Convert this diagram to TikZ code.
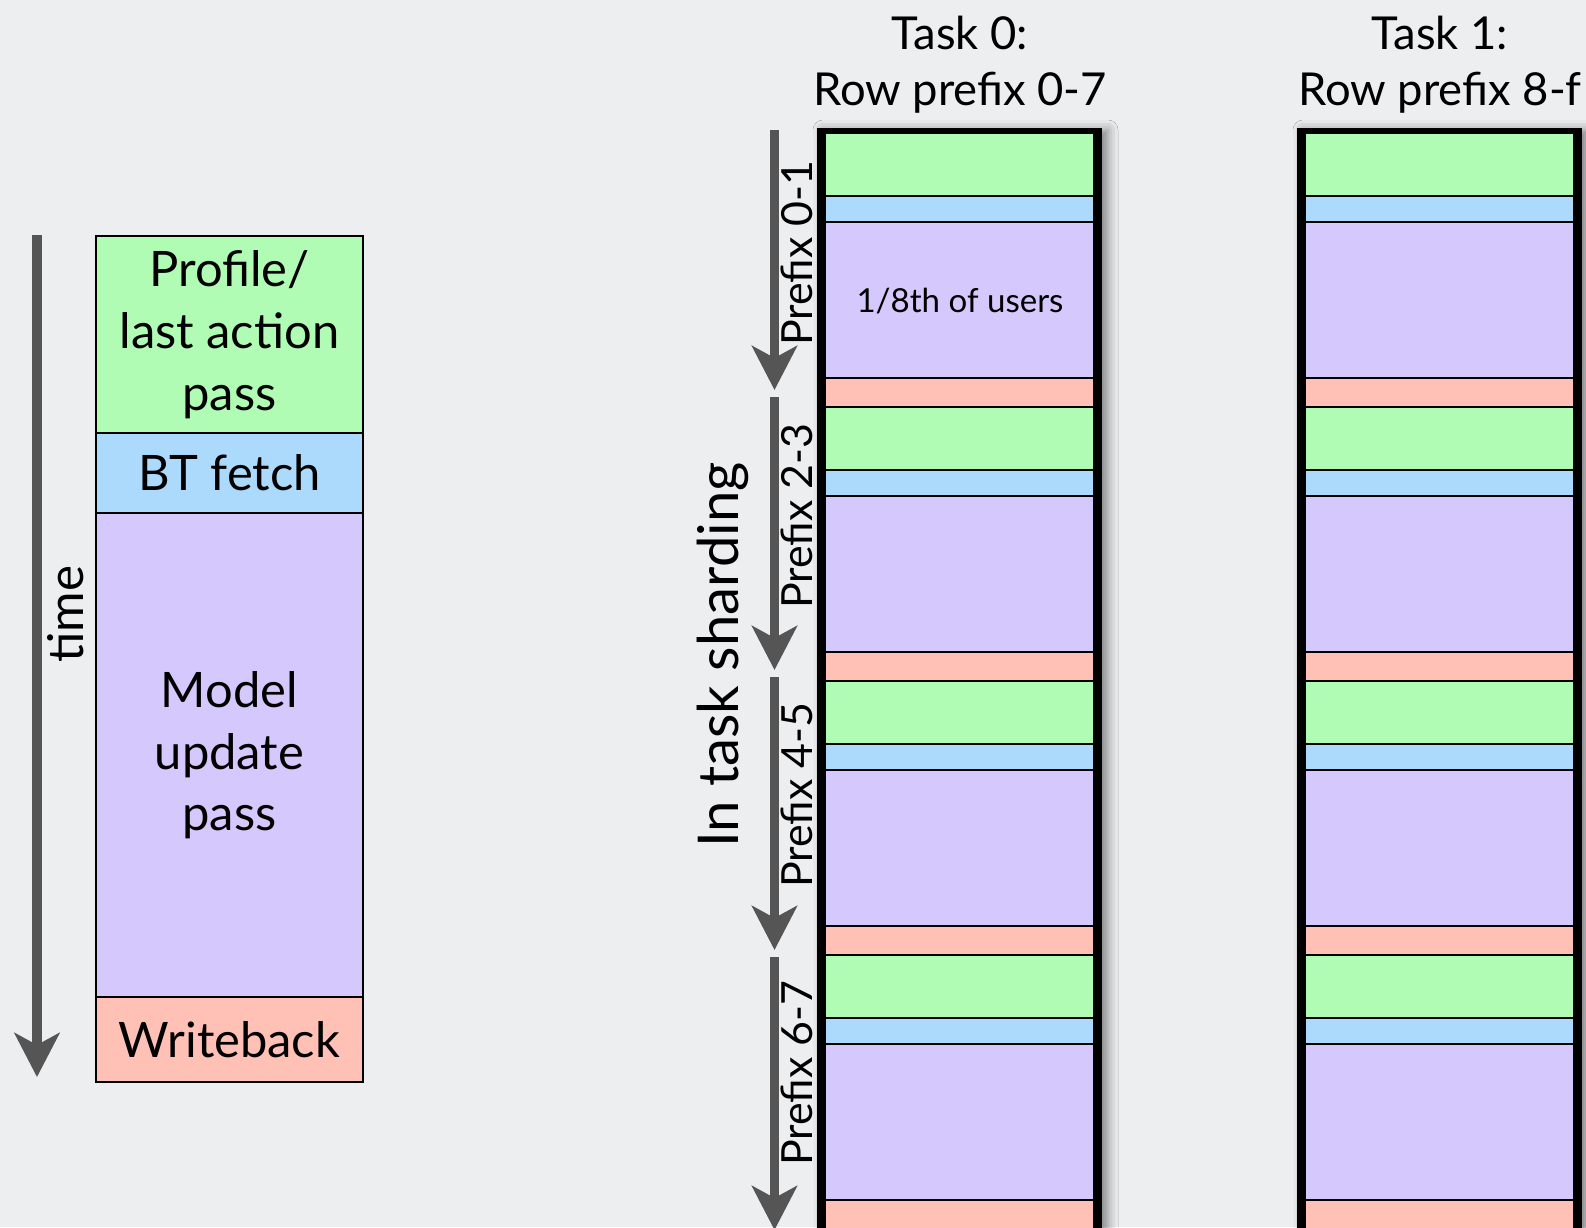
\documentclass[tikz,border=0pt]{standalone}
\usepackage{fontspec}
\setmainfont{Lato}
\usetikzlibrary{arrows.meta,positioning,shadows.blur}

\definecolor{bgcol}{RGB}{237,238,240}
\definecolor{passgreen}{RGB}{176,252,180}
\definecolor{fetchblue}{RGB}{172,218,252}
\definecolor{modelpurple}{RGB}{213,200,252}
\definecolor{writepink}{RGB}{255,192,182}
\definecolor{arrowgray}{RGB}{85,85,85}

\tikzset{
  legendbox/.style={draw=black, line width=0.02cm, minimum width=2.67cm, outer sep=0pt, inner sep=0pt, align=center, font=\fontsize{13.9}{17.6}\selectfont},
  timearrow/.style={draw=arrowgray, line width=0.095cm, -{Stealth[length=0.44cm,width=0.45cm,inset=0.12cm]}},
  seg/.style={draw=black, line width=0.02cm},
  prefixlbl/.style={rotate=90, font=\fontsize{12.2}{12.2}\selectfont, inner sep=0pt},
  tasktitle/.style={align=center, font=\fontsize{12.9}{15.9}\selectfont},
}

\begin{document}
\begin{tikzpicture}[x=0.01cm,y=-0.01cm]
  \useasboundingbox (0,0) rectangle (1586,1227);
  \fill[bgcol] (0,0) rectangle (1586,1227);
  \clip (0,0) rectangle (1586,1227);

  % legend
  \node[legendbox, fill=passgreen, minimum height=1.97cm] (prof) at (229.5,334.5) {Profile/\\last action\\pass};
  \node[legendbox, fill=fetchblue, minimum height=0.8cm, below=0pt of prof] (fetch) {BT fetch};
  \node[legendbox, fill=modelpurple, minimum height=4.84cm, below=0pt of fetch] (model) {Model\\update\\pass};
  \node[legendbox, fill=writepink, minimum height=0.85cm, below=0pt of model] (wb) {Writeback};

  \coordinate (ttop) at (37,235);
  \coordinate (tend) at (37,1077);
  \draw[timearrow] (ttop) -- (tend);
  \node[rotate=90, font=\fontsize{14}{14}\selectfont] (timelbl) at (66,614) {time};

  % task columns
  \foreach \cx in {817,1297} {
    \fill[black, blur shadow={shadow xshift=0.06cm, shadow yshift=-0.02cm, shadow blur radius=0.1cm, shadow opacity=45}] (\cx,128) rectangle (\cx+285,1320);
    \foreach \k in {0,...,3} {
      \pgfmathsetmacro\py{133+274*\k}
      \draw[seg, fill=passgreen] (\cx+8,\py) rectangle (\cx+277,\py+63);
      \draw[seg, fill=fetchblue] (\cx+8,\py+63) rectangle (\cx+277,\py+89);
      \draw[seg, fill=modelpurple] (\cx+8,\py+89) rectangle (\cx+277,\py+245);
      \draw[seg, fill=writepink] (\cx+8,\py+245) rectangle (\cx+277,\py+274);
    }
  }
  \node[font=\fontsize{9.4}{9.4}\selectfont] (frac) at (960,301) {1/8th of users};

  \node[tasktitle] (task0) at (960,65) {Task 0:\\Row prefix 0-7};
  \node[tasktitle] (task1) at (1440,65) {Task 1:\\Row prefix 8-f};

  % prefix arrows
  \foreach \k/\ya/\yb in {1/130/390, 2/397/670, 3/677/950, 4/957/1230} {
    \coordinate (pa\k) at (774.5,\ya);
    \coordinate (pb\k) at (774.5,\yb);
    \draw[timearrow] (pa\k) -- (pb\k);
  }
  \node[prefixlbl] (pre01) at (797,253) {Prefix 0-1};
  \node[prefixlbl] (pre23) at (797,516) {Prefix 2-3};
  \node[prefixlbl] (pre45) at (797,795) {Prefix 4-5};
  \node[prefixlbl] (pre67) at (797,1073) {Prefix 6-7};

  \node[rotate=90, font=\fontsize{16}{16}\selectfont] (shard) at (723,655) {In task sharding};
\end{tikzpicture}
\end{document}
